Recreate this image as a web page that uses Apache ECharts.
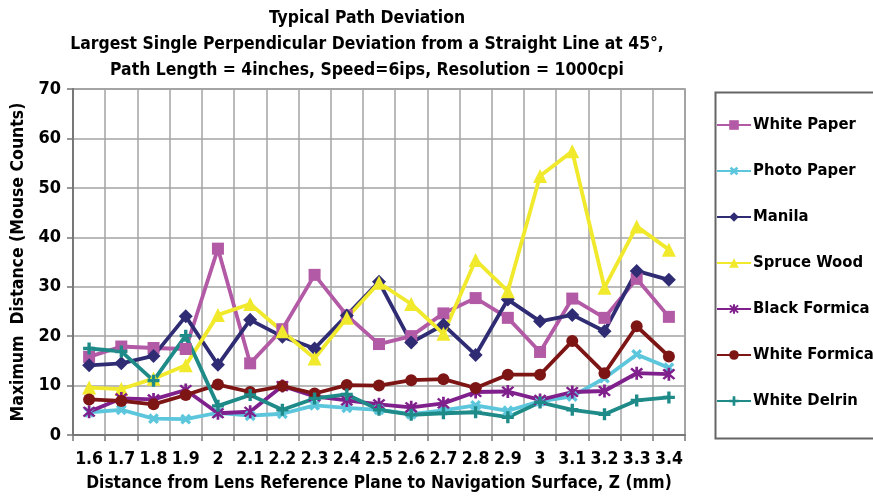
<!DOCTYPE html>
<html><head><meta charset="utf-8">
<script src="https://cdn.jsdelivr.net/npm/echarts@6/dist/echarts.min.js"></script>
<style>html,body{margin:0;padding:0;background:#fff}#c{width:873px;height:499px}</style>
</head><body><div id="c"></div>
<script>
const categories = ['1.6','1.7','1.8','1.9','2','2.1','2.2','2.3','2.4','2.5','2.6','2.7','2.8','2.9','3','3.1','3.2','3.3','3.4'];
const whitePaper   = [15.8,17.9,17.6,17.4,37.7,14.5,21.4,32.4,24.2,18.4,20.0,24.6,27.7,23.7,16.8,27.6,23.7,31.6,23.9];
const photoPaper   = [4.6,5.1,3.3,3.2,4.5,3.9,4.3,6.0,5.5,5.1,4.2,5.0,6.0,4.9,6.8,7.8,11.5,16.3,13.6];
const manila       = [14.1,14.5,16.0,24.0,14.2,23.3,19.9,17.5,24.2,31.0,18.7,22.3,16.2,27.4,23.0,24.3,21.0,33.2,31.4];
const spruceWood   = [9.6,9.3,11.4,14.1,24.3,26.5,21.0,15.5,23.7,30.8,26.5,20.5,35.4,29.1,52.4,57.4,29.8,42.2,37.5];
const blackFormica = [4.7,7.4,7.2,9.1,4.4,4.7,9.9,7.8,7.0,6.2,5.6,6.4,8.7,8.8,7.1,8.7,8.9,12.5,12.3];
const whiteFormica = [7.2,6.9,6.2,8.1,10.2,8.7,9.9,8.4,10.1,10.0,11.1,11.3,9.5,12.2,12.2,19.0,12.5,22.0,15.9];
const whiteDelrin  = [17.5,16.9,11.0,20.1,5.9,8.1,5.1,7.4,8.2,5.1,4.1,4.4,4.6,3.6,6.6,5.1,4.2,7.0,7.6];
const yTicks = [0,10,20,30,40,50,60,70];

const FONT = "'DejaVu Sans Condensed','Liberation Sans Narrow',sans-serif";
const plusPath = 'path://M3.6,0H6.4V3.6H10V6.4H6.4V10H3.6V6.4H0V3.6H3.6Z';
const starPath = 'path://M4.1,0H5.9V10H4.1Z M0.7,1.9L1.9,0.7L9.3,8.1L8.1,9.3Z M8.1,0.7L9.3,1.9L1.9,9.3L0.7,8.1Z';

function mk(name, data, color, symbol, size, extra) {
  return Object.assign({
    name, type: 'line', data, symbol, symbolSize: size,
    lineStyle: { width: 3.8, color },
    itemStyle: { color, borderColor: color, borderWidth: 0 },
    emphasis: { disabled: true }
  }, extra || {});
}

const series = [
  mk('White Paper', whitePaper, '#B35AA6', 'rect', 12),
  mk('Photo Paper', photoPaper, '#5CC6DC', plusPath, 12, { symbolRotate: 45 }),
  mk('Manila', manila, '#2F2C74', 'diamond', 14),
  mk('Spruce Wood', spruceWood, '#F1E92B', 'triangle', 14),
  mk('Black Formica', blackFormica, '#80208C', starPath, 13),
  mk('White Formica', whiteFormica, '#7D1515', 'circle', 12),
  mk('White Delrin', whiteDelrin, '#1F8B89', plusPath, 12)
];

const chart = echarts.init(document.getElementById('c'), null, { renderer: 'canvas' });
chart.setOption({
  animation: false,
  backgroundColor: '#fff',
  title: {
    text: 'Typical Path Deviation\nLargest Single Perpendicular Deviation from a Straight Line at 45°,\nPath Length = 4inches, Speed=6ips, Resolution = 1000cpi',
    left: 362, top: 0, textAlign: 'center',
    textStyle: { fontFamily: FONT, fontWeight: 'bold', fontSize: 17.4, lineHeight: 26, color: '#000' }
  },
  grid: { left: 73, right: 188, top: 89, bottom: 64, show: true, borderColor: '#8a8a8a', borderWidth: 1.5,
    containLabel: false, outerBoundsMode: 'none' },
  legend: {
    orient: 'vertical', left: 716, top: 115, padding: 0,
    itemWidth: 34, itemHeight: 12, itemGap: 26,
    textStyle: { fontFamily: FONT, fontWeight: 'bold', fontSize: 16.5, lineHeight: 20, color: '#000', padding: [0,0,0,-3] },
    data: series.map(s => s.name)
  },
  graphic: [{
    type: 'rect', left: 713, top: 90, shape: { width: 170, height: 346 },
    style: { fill: 'none', stroke: '#666', lineWidth: 2 }, silent: true, z: -1
  }],
  xAxis: {
    type: 'category', data: categories, boundaryGap: true,
    name: 'Distance from Lens Reference Plane to Navigation Surface, Z (mm)',
    nameLocation: 'middle', nameGap: 40,
    nameTextStyle: { fontFamily: FONT, fontWeight: 'bold', fontSize: 17.2, color: '#000' },
    axisLine: { lineStyle: { color: '#777', width: 2 } },
    axisTick: { show: true, length: 6, lineStyle: { color: '#777', width: 1.5 }, interval: 0 },
    axisLabel: { fontFamily: FONT, fontWeight: 'bold', fontSize: 17.5, color: '#000', margin: 15, interval: 0 },
    splitLine: { show: true, interval: 0, lineStyle: { color: '#a3a3a3', width: 1.5 } }
  },
  yAxis: {
    type: 'value', min: 0, max: 70, interval: 10,
    name: 'Maximum  Distance (Mouse Counts)',
    nameLocation: 'middle', nameGap: 46, nameRotate: 90,
    nameTextStyle: { fontFamily: FONT, fontWeight: 'bold', fontSize: 17.5, color: '#000' },
    axisLine: { show: true, lineStyle: { color: '#777', width: 2 } },
    axisTick: { show: true, length: 6, lineStyle: { color: '#777', width: 1.5 } },
    axisLabel: { fontFamily: FONT, fontWeight: 'bold', fontSize: 18, color: '#000', margin: 12,
      formatter: v => yTicks.includes(v) ? String(v) : '' },
    splitLine: { show: true, lineStyle: { color: '#a3a3a3', width: 1.5 } }
  },
  series
});
</script>
</body></html>
